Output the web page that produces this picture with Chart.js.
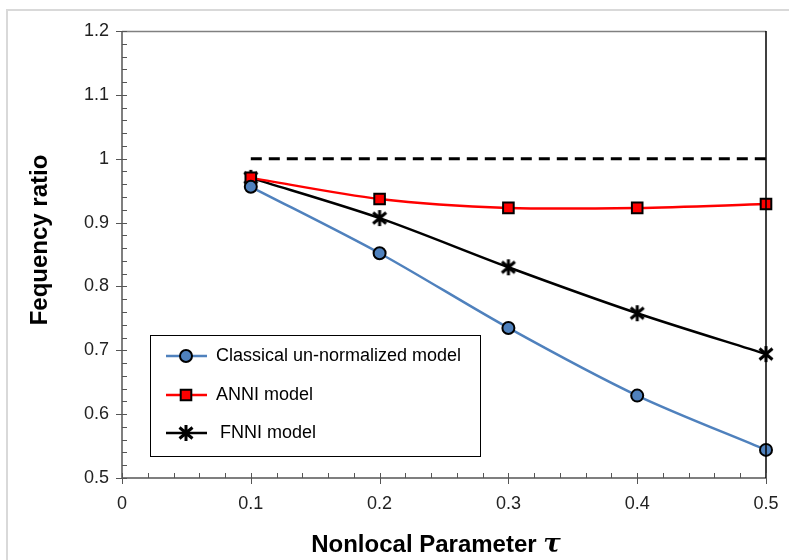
<!DOCTYPE html>
<html>
<head>
<meta charset="utf-8">
<script src="https://cdn.jsdelivr.net/npm/chart.js@4.4.1/dist/chart.umd.min.js"></script>
<style>
  html, body { margin: 0; padding: 0; background: #fff; }
  #wrap { width: 789px; height: 560px; }
</style>
</head>
<body>
<div id="wrap"><canvas id="chart" width="789" height="560"></canvas></div>
<script>
// data
const tau = [0.1, 0.2, 0.3, 0.4, 0.5];
const classical = [0.956, 0.852, 0.735, 0.629, 0.544];
const anni = [0.970, 0.937, 0.923, 0.923, 0.929];
const fnni = [0.970, 0.907, 0.830, 0.758, 0.694];
const reference = [1, 1];
const referenceX = [0.1, 0.5];
const seriesNames = ['Classical un-normalized model', 'ANNI model', 'FNNI model'];

const toPoints = (xs, ys) => xs.map((x, i) => ({ x: x, y: ys[i] }));

// six-armed asterisk marker
const makeAsterisk = () => {
    const c = document.createElement('canvas');
    c.width = 18; c.height = 18;
    const g = c.getContext('2d');
    g.strokeStyle = '#000';
    g.lineWidth = 3;
    g.beginPath();
    g.moveTo(2.5, 3.5); g.lineTo(15.5, 14.5);
    g.moveTo(15.5, 3.5); g.lineTo(2.5, 14.5);
    g.moveTo(9, 1); g.lineTo(9, 17);
    g.stroke();
    return c;
};
const asterisk = makeAsterisk();

const noOverflow = (s) => { s.paddingLeft = 0; s.paddingRight = 0; s.paddingTop = 0; s.paddingBottom = 0; };

const frame = {
    id: 'frame',
    beforeDraw(chart) {
        const ctx = chart.ctx;
        ctx.save();
        ctx.strokeStyle = '#d9d9d9';
        ctx.lineWidth = 2;
        ctx.beginPath();
        ctx.moveTo(7, 560); ctx.lineTo(7, 10); ctx.lineTo(789, 10);
        ctx.stroke();
        ctx.restore();
    },
    afterDatasetsDraw(chart) {
        const ctx = chart.ctx;
        const a = chart.chartArea;
        const xs = chart.scales.x, ys = chart.scales.y;
        ctx.save();
        // plot box
        ctx.lineWidth = 1.5;
        ctx.strokeStyle = '#808080';
        ctx.beginPath();
        ctx.moveTo(a.left, a.top + 0.5); ctx.lineTo(a.right, a.top + 0.5);
        ctx.stroke();
        ctx.strokeStyle = '#555';
        ctx.beginPath();
        ctx.moveTo(a.left, a.top); ctx.lineTo(a.left, a.bottom); ctx.lineTo(a.right, a.bottom);
        ctx.stroke();
        ctx.strokeStyle = '#000';
        ctx.beginPath();
        ctx.moveTo(a.right, a.top); ctx.lineTo(a.right, a.bottom);
        ctx.stroke();

        // ticks: majors cross the axis, minors point inward
        ctx.lineWidth = 1;
        ctx.strokeStyle = '#555';
        ctx.beginPath();
        for (let i = 0; i <= 35; i++) {
            const v = 0.5 + i * 0.02;
            const py = Math.round(ys.getPixelForValue(v)) + 0.5;
            const major = i % 5 === 0;
            ctx.moveTo(a.left - (major ? 6 : 0), py);
            ctx.lineTo(a.left + 5, py);
        }
        for (let i = 0; i <= 25; i++) {
            const v = i * 0.02;
            const px = Math.round(xs.getPixelForValue(v)) + 0.5;
            const major = i % 5 === 0;
            ctx.moveTo(px, a.bottom + (major ? 6 : 0));
            ctx.lineTo(px, a.bottom - 5);
        }
        ctx.stroke();

        // axis titles
        const titleFont = 'bold 24px "Liberation Sans", Arial, sans-serif';
        const tauFont = 'italic bold 26px "DejaVu Serif", serif';
        ctx.fillStyle = '#000';
        ctx.font = titleFont;
        ctx.textAlign = 'center';
        ctx.textBaseline = 'middle';
        ctx.save();
        ctx.translate(40, 240);
        ctx.rotate(-Math.PI / 2);
        ctx.fillText('Fequency ratio', 0, 0);
        ctx.restore();
        const t1 = 'Nonlocal Parameter ';
        const w1 = ctx.measureText(t1).width;
        ctx.font = tauFont;
        const w2 = ctx.measureText('τ').width;
        const x0 = 436 - (w1 + w2) / 2;
        ctx.textAlign = 'left';
        ctx.font = titleFont;
        ctx.fillText(t1, x0, 545);
        ctx.font = tauFont;
        ctx.fillText('τ', x0 + w1, 545);

        // legend
        const lx = 150, ly = 335, lw = 330, lh = 121;
        ctx.fillStyle = '#fff';
        ctx.fillRect(lx, ly, lw, lh);
        ctx.strokeStyle = '#000';
        ctx.lineWidth = 1;
        ctx.strokeRect(lx + 0.5, ly + 0.5, lw, lh);
        const rows = [356, 395, 433];
        chart.data.datasets.slice(0, 3).forEach((ds, i) => {
            const y = rows[i];
            ctx.strokeStyle = ds.borderColor;
            ctx.lineWidth = ds.borderWidth;
            ctx.beginPath();
            ctx.moveTo(166, y); ctx.lineTo(207, y);
            ctx.stroke();
            if (ds.pointStyle === asterisk) {
                ctx.drawImage(asterisk, 186 - 9, y - 9);
            } else {
                ctx.fillStyle = ds.pointBackgroundColor;
                ctx.strokeStyle = ds.pointBorderColor;
                ctx.lineWidth = ds.pointBorderWidth;
                ctx.beginPath();
                if (ds.pointStyle === 'circle') {
                    ctx.arc(186, y, ds.pointRadius, 0, Math.PI * 2);
                } else {
                    const h = ds.pointRadius * Math.SQRT1_2;
                    ctx.rect(186 - h, y - h, h * 2, h * 2);
                }
                ctx.fill(); ctx.stroke();
            }
            ctx.fillStyle = '#000';
            ctx.font = '18px "Liberation Sans", Arial, sans-serif';
            ctx.textBaseline = 'middle';
            ctx.fillText(ds.label, i === 2 ? 220 : 216, y);
        });
        ctx.restore();
    }
};

new Chart(document.getElementById('chart'), {
    type: 'line',
    data: {
        datasets: [
            {
                label: seriesNames[0],
                data: toPoints(tau, classical),
                borderColor: '#4f81bd',
                borderWidth: 2.5,
                tension: 0.3,
                pointStyle: 'circle',
                pointRadius: 6,
                pointBackgroundColor: '#4f81bd',
                pointBorderColor: '#000',
                pointBorderWidth: 2
            },
            {
                label: seriesNames[1],
                data: toPoints(tau, anni),
                borderColor: '#ff0000',
                borderWidth: 2.5,
                tension: 0.3,
                pointStyle: 'rect',
                pointRadius: 7.5,
                pointBackgroundColor: '#ff0000',
                pointBorderColor: '#000',
                pointBorderWidth: 2
            },
            {
                label: seriesNames[2],
                data: toPoints(tau, fnni),
                borderColor: '#000',
                borderWidth: 2.5,
                tension: 0.3,
                pointStyle: asterisk,
                pointRadius: 8,
                pointBorderWidth: 0
            },
            {
                label: 'reference',
                data: toPoints(referenceX, reference),
                borderColor: '#000',
                borderWidth: 3,
                borderDash: [11, 7],
                pointRadius: 0,
                tension: 0
            }
        ]
    },
    options: {
        responsive: false,
        animation: false,
        clip: false,
        layout: { padding: { left: 0, right: 23, top: 31, bottom: 0 } },
        plugins: { legend: { display: false }, tooltip: { enabled: false } },
        scales: {
            x: {
                type: 'linear',
                min: 0,
                max: 0.5,
                afterFit: (s) => { s.height = 82; noOverflow(s); },
                border: { display: false },
                grid: { display: true, drawOnChartArea: false, drawTicks: false, color: 'transparent' },
                ticks: {
                    stepSize: 0.1,
                    padding: 15,
                    color: '#222',
                    font: { family: '"Liberation Sans", Arial, sans-serif', size: 18 },
                    callback: (v) => String(Number(v.toFixed(1)))
                }
            },
            y: {
                type: 'linear',
                min: 0.5,
                max: 1.2,
                afterFit: (s) => { s.width = 122; noOverflow(s); },
                border: { display: false },
                grid: { display: true, drawOnChartArea: false, drawTicks: false, color: 'transparent' },
                ticks: {
                    stepSize: 0.1,
                    padding: 13,
                    color: '#222',
                    font: { family: '"Liberation Sans", Arial, sans-serif', size: 18 },
                    callback: (v) => String(Number(v.toFixed(1)))
                }
            }
        }
    },
    plugins: [frame]
});
</script>
</body>
</html>
